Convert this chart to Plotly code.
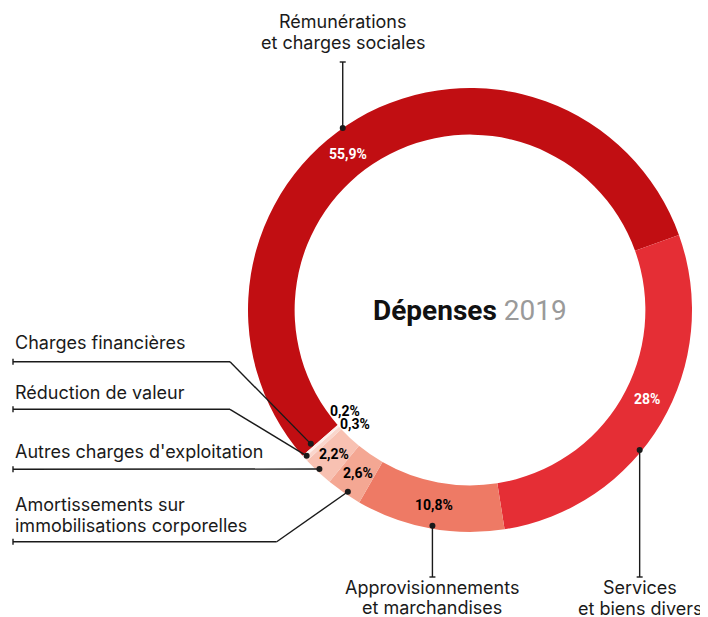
import math
import plotly.graph_objects as go

# ---------------- data ----------------
categories = [
    "Rémunérations<br>et charges sociales",
    "Services<br>et biens divers",
    "Approvisionnements<br>et marchandises",
    "Amortissements sur<br>immobilisations corporelles",
    "Autres charges d'exploitation",
    "Réduction de valeur",
    "Charges financières",
]
values = [55.9, 28, 10.8, 2.6, 2.2, 0.3, 0.2]
title_main = "Dépenses"
title_year = "2019"

# ---------------- styles / layout ----------------
colors = ["#C10E12", "#E52E35", "#EE7A65", "#F4A793", "#F8C1B2", "#FAD6CC", "#FDEEEA"]
pct_colors = ["white", "white", "black", "black", "black", "black", "black"]
PAGE_W, PAGE_H = 708, 617
OFF = 8                      # the page body margin places the plot 8px in from the corner
W, H = PAGE_W - OFF, PAGE_H - OFF
CX, CY, R = 470, 310, 222    # target positions in page pixels
HOLE = 0.79
START = 229  # degrees clockwise from 12 o'clock

pct_r = [198, 198, 198, 198, 198, 162, 161]
pct_da = [-7.6, -3.9, 0, 0, 0, -2.3, 2.4]
dot_r = [222, 220, 219, 219, 219, 219, 208]
dot_da = [-4.6, 8.9, -0.6, -0.7, 0.2, 0.5, 1.3]

# leader routing: ('up'|'down', end_y, label_center_y) or ('left', line_y, elbow_x, label_center_y)
leaders = [
    ("up", 62, 32),
    ("down", 577, 598),
    ("down", 577, 597.5),
    ("left", 541.7, 276.7, 515),
    ("left", 469.3, None, 451),
    ("left", 409.3, 230, 392.7),
    ("left", 361.7, 230, 342.7),
]
LINE_SP = 20.8
LEFT_X = 13
LINE_COL = "#1a1a1a"
LW = 1.4
TXT_FONT = "Inter, Roboto, sans-serif"
TXT_SIZE = 18
PCT_FONT = "Roboto, sans-serif"


def px(x, y):
    return (x - OFF) / W, 1 - (y - OFF) / H


def polar(a_deg, r):
    a = math.radians(a_deg)
    return CX + r * math.sin(a), CY - r * math.cos(a)


fig = go.Figure()
dx0, dy1 = px(CX - R, CY - R)
dx1, dy0 = px(CX + R, CY + R)
fig.add_trace(go.Pie(
    values=values, labels=categories, sort=False, direction="clockwise",
    rotation=START, hole=HOLE, textinfo="none", hoverinfo="skip",
    marker=dict(colors=colors, line=dict(width=0)),
    domain=dict(x=[dx0, dx1], y=[dy0, dy1]),
    showlegend=False,
))

shapes = []
annotations = []


def add_text(x, yc, text, anchor):
    lines = text.split("<br>")
    n = len(lines)
    for k, t in enumerate(lines):
        y = yc + (k - (n - 1) / 2) * LINE_SP
        ax_, ay_ = px(x, y)
        annotations.append(dict(x=ax_, y=ay_, xref="paper", yref="paper", text=t,
                                showarrow=False, font=dict(family=TXT_FONT, size=TXT_SIZE, color="#1a1a1a"),
                                xanchor=anchor, yanchor="middle"))


def add_line(p, q):
    a = px(*p)
    b = px(*q)
    shapes.append(dict(type="line", xref="paper", yref="paper", x0=a[0], y0=a[1], x1=b[0], y1=b[1],
                       line=dict(color=LINE_COL, width=LW)))


total = sum(values)
acc = 0.0
for i, v in enumerate(values):
    a0 = START + acc / total * 360
    acc += v
    a1 = START + acc / total * 360
    mid = (a0 + a1) / 2

    # percentage label
    lx, ly = polar(mid + pct_da[i], pct_r[i])
    txt = (f"{v:g}".replace(".", ",")) + "%"
    ax_, ay_ = px(lx, ly)
    annotations.append(dict(x=ax_, y=ay_, xref="paper", yref="paper", text=f"<b>{txt}</b>",
                            showarrow=False, font=dict(family=PCT_FONT, size=14, color=pct_colors[i]),
                            xanchor="center", yanchor="middle"))

    # dot
    dx, dy = polar(mid + dot_da[i], dot_r[i])
    rr = 3
    x0, y0 = px(dx - rr, dy + rr)
    x1, y1 = px(dx + rr, dy - rr)
    shapes.append(dict(type="circle", xref="paper", yref="paper", x0=x0, y0=y0, x1=x1, y1=y1,
                       fillcolor=LINE_COL, line=dict(width=0)))

    ld = leaders[i]
    if ld[0] in ("up", "down"):
        end_y, lab_y = ld[1], ld[2]
        add_line((dx, dy), (dx, end_y))
        add_line((dx - 3, end_y), (dx + 3, end_y))
        add_text(dx, lab_y, categories[i], "center")
    else:
        line_y, elbow_x, lab_y = ld[1], ld[2], ld[3]
        pts = [(LEFT_X, line_y)]
        if elbow_x is not None:
            pts.append((elbow_x, line_y))
        pts.append((dx, dy))
        for k in range(len(pts) - 1):
            add_line(pts[k], pts[k + 1])
        add_line((LEFT_X, line_y - 3), (LEFT_X, line_y + 3))
        add_text(LEFT_X, lab_y, categories[i], "left")

tx, ty = px(CX, CY)
annotations.append(dict(x=tx, y=ty, xref="paper", yref="paper",
                        text=f"<b>{title_main}</b> <span style='color:#9a9a9a'>{title_year}</span>",
                        showarrow=False, font=dict(family="Roboto, sans-serif", size=28, color="#111111"),
                        xanchor="center", yanchor="middle"))

fig.update_layout(
    width=W, height=H, margin=dict(l=0, r=0, t=0, b=0),
    paper_bgcolor="white", plot_bgcolor="white",
    shapes=shapes, annotations=annotations, showlegend=False,
)

fig.write_html("out.html")
